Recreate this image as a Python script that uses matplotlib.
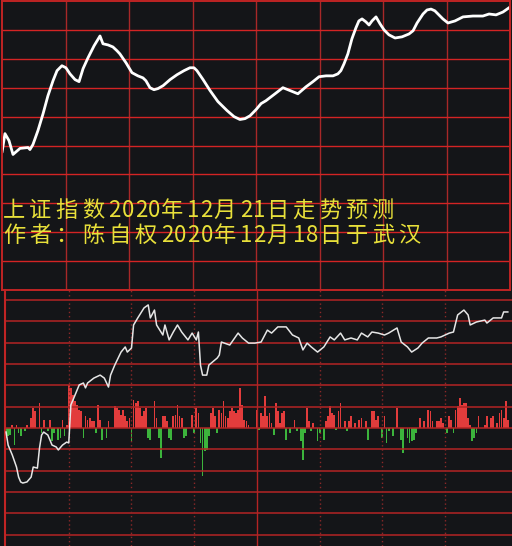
import matplotlib.pyplot as plt
import numpy as np

plt.rcParams['font.family'] = ['Noto Sans CJK SC', 'DejaVu Sans']

bg = '#141518'

# top panel: forecast curve (minute of session, grid units 0..10)
fc_t = [0, 1.4, 3.3, 5.2, 8.5, 12.3, 13.2, 14.6, 17.0, 19.4, 21.7, 24.1, 26.0, 28.3,
        30.2, 32.1, 34.5, 36.4, 38.3, 40.6, 43.5, 46.3, 47.7, 50.1, 52.4, 54.3, 55.7,
        58.6, 61.4, 64.2, 66.6, 68.0, 69.9, 71.8, 73.7, 76.1, 79.4, 82.7, 86.0, 88.8,
        90.7, 92.1, 95.0, 98.3, 102.0, 106.3, 109.6, 112.4, 114.8, 117.2, 120.0, 122.4,
        124.7, 129.0, 132.7, 136.1, 139.8, 143.6, 146.9, 149.8, 153.1, 156.4, 158.7,
        160.1, 161.6, 163.4, 165.3, 167.2, 168.6, 170.1, 171.9, 173.4, 174.8, 176.7,
        178.6, 180.5, 182.8, 185.7, 189.0, 192.3, 194.2, 196.1, 198.9, 200.8, 202.7,
        204.5, 206.0, 208.3, 210.7, 214.0, 217.8, 222.5, 227.2, 230.1, 233.4, 236.7, 240]
fc_v = [4.76, 5.41, 5.17, 4.69, 4.90, 4.93, 4.86, 5.03, 5.52, 6.10, 6.72, 7.24, 7.59, 7.76,
        7.69, 7.48, 7.28, 7.21, 7.66, 8.03, 8.45, 8.79, 8.52, 8.48, 8.41, 8.28, 8.17,
        7.86, 7.52, 7.41, 7.34, 7.24, 7.00, 6.93, 6.97, 7.07, 7.28, 7.45, 7.59, 7.69,
        7.69, 7.59, 7.28, 6.90, 6.52, 6.21, 6.00, 5.90, 5.93, 6.03, 6.24, 6.45,
        6.55, 6.79, 7.00, 6.90, 6.79, 7.03, 7.21, 7.38, 7.41, 7.41, 7.48,
        7.59, 7.83, 8.17, 8.69, 9.07, 9.31, 9.38, 9.28, 9.17, 9.31, 9.45,
        9.21, 9.00, 8.83, 8.72, 8.76, 8.86, 8.97, 9.24, 9.55, 9.69, 9.72,
        9.66, 9.55, 9.38, 9.24, 9.31, 9.45, 9.48, 9.48, 9.55, 9.52, 9.62, 9.79]

# bottom panel: intraday price line (grid units, 0 = previous close)
px_t = [0, 1, 3, 5, 6, 7, 8, 10, 12, 13, 15, 16, 17, 18, 20, 22, 24, 25, 27, 29, 30,
        31, 32, 35, 37, 38, 39, 42, 45, 47, 49, 50, 52, 55, 57, 58, 60, 61, 63, 66, 68,
        69, 71, 72, 75, 76, 78, 80, 82, 84, 87, 89, 91, 92, 93, 94, 96, 97, 101, 102, 103,
        107, 111, 113, 116, 119, 122, 125, 127, 130, 134, 137, 140, 142, 144, 146, 149,
        152, 155, 157, 160, 162, 165, 168, 170, 173, 175, 178, 181, 183, 187, 189, 192,
        194, 197, 199, 202, 206, 208, 212, 214, 216, 219, 221, 222, 225, 229, 230, 233,
        237, 238, 240]
px_v = [-0.19, -0.80, -1.27, -1.83, -2.30, -2.53, -2.58, -2.53, -2.30, -1.83, -1.88, -0.94,
        -0.33, -0.19, -0.33, -0.80, -0.89, -1.03, -0.80, -0.66, -0.70,
        1.08, 1.31, 2.02, 2.11, 1.88, 2.11, 2.34, 2.48, 2.34, 1.92, 2.48, 2.95, 3.56, 3.80,
        3.56, 3.75, 4.83, 5.16, 5.63, 5.77, 5.16, 5.53, 4.83, 4.36, 4.83, 4.13, 4.50, 4.83,
        4.50, 4.13, 4.45, 4.13, 4.50, 2.95, 2.48, 2.48, 2.95, 3.28, 3.42, 4.03,
        3.89, 4.45, 4.22, 3.98, 3.98, 4.03, 4.59, 4.45, 4.74, 4.74, 4.36, 4.22, 3.66, 3.98,
        3.80, 3.56, 3.80, 4.27, 4.13, 4.45, 4.13, 4.22, 4.13, 4.45, 4.27, 4.50, 4.45, 4.36,
        4.45, 4.69, 4.03, 3.80, 3.56, 3.75, 3.98, 4.22, 4.22, 4.27, 4.45, 4.50, 5.30, 5.53,
        5.30, 4.83, 4.97, 5.06, 4.92, 5.16, 5.16, 5.44, 5.44]

# buy (red) / sell (green) bars per minute
up_t = [3, 5, 10, 12, 13, 14, 16, 18, 21, 27, 29, 30, 31, 32, 33, 34, 35, 36, 38, 39, 40,
        41, 42, 44, 45, 49, 52, 53, 54, 55, 56, 57, 58, 59, 61, 62, 63, 64, 65, 66, 67, 71,
        72, 75, 76, 77, 80, 81, 82, 83, 84, 89, 91, 92, 98, 99, 100, 102, 103, 104, 105, 106,
        107, 108, 109, 110, 111, 112, 113, 114, 115, 116, 120, 122, 123, 124, 125, 126, 127,
        129, 130, 131, 132, 133, 138, 144, 145, 147, 153, 154, 155, 156, 157, 159, 160, 162,
        164, 165, 167, 169, 170, 172, 175, 176, 177, 178, 181, 187, 198, 200, 202, 203, 204,
        206, 207, 208, 209, 212, 213, 215, 216, 217, 218, 219, 220, 221, 222, 226, 229, 230,
        232, 233, 235, 236, 237, 238, 239, 240]
up_v = [10, 10, 10, 30, 60, 50, 75, 25, 25, 25, 10, 130, 120, 100, 80, 70, 55, 50, 35, 25, 30,
        20, 20, 70, 25, 20, 65, 60, 55, 40, 55, 35, 20, 30, 85, 75, 80, 60, 35, 50, 60, 80,
        30, 35, 35, 20, 35, 40, 70, 35, 30, 40, 60, 45, 45, 60, 35, 55, 45, 80, 35, 30,
        50, 60, 50, 45, 55, 120, 70, 25, 20, 10, 55, 45, 35, 95, 35, 45, 15,
        75, 50, 15, 45, 50, 25, 60, 20, 15, 20, 35, 65, 45, 40, 50, 75, 20,
        20, 35, 15, 25, 30, 20, 50, 50, 25, 35, 35, 60, 30, 20, 55, 50, 20,
        20, 20, 30, 15, 35, 25, 55, 65, 90, 70, 75, 75, 30, 10, 35, 10, 35,
        30, 35, 15, 45, 55, 30, 80, 25]
dn_t = [0, 1, 2, 4, 6, 7, 9, 17, 20, 22, 23, 25, 26, 28, 37, 43, 46, 48, 60, 68, 69, 73, 74,
        78, 79, 85, 86, 90, 93, 94, 95, 96, 97, 101, 121, 128, 134, 136, 139, 141, 142, 143,
        146, 149, 150, 152, 158, 163, 173, 180, 182, 183, 185, 189, 190, 192, 193, 194, 195,
        196, 211, 214, 223, 224, 225]
dn_v = [30, 25, 20, 50, 15, 25, 10, 15, 10, 40, 15, 35, 30, 25, 30, 15, 35, 30, 40, 30, 35, 30, 90,
        30, 35, 30, 25, 15, 45, 145, 70, 65, 25, 15, 5, 20, 35, 15, 10, 40, 95, 15,
        10, 40, 15, 35, 5, 10, 35, 30, 45, 10, 25, 35, 75, 30, 45, 40, 35,
        15, 15, 15, 40, 30, 15]

title_lines = ['上证指数2020年12月21日走势预测', '作者：陈自权2020年12月18日于武汉']

W, H = 512, 546
fig = plt.figure(figsize=(W / 100, H / 100), dpi=100, facecolor=bg)

# ---- top panel
ax1 = fig.add_axes([2 / W, 1 - 290 / H, 508 / W, 289 / H], facecolor=bg)
ax1.set_xlim(0, 240)
ax1.set_ylim(0, 10)
for x in range(30, 240, 30):
    ax1.axvline(x, color='#a82828', lw=1.0)
for y in range(1, 10):
    ax1.axhline(y, color='#d42424', lw=1.0)
ax1.plot(fc_t, fc_v, color='white', lw=2.0, solid_joinstyle='round', solid_capstyle='round')
for s in ax1.spines.values():
    s.set_color('#c02424')
    s.set_linewidth(1.4)
ax1.set_xticks([])
ax1.set_yticks([])

# monospaced-looking caption: wide cells for hanzi, narrow for digits
for line, base in zip(title_lines, [217, 242]):
    x = 3
    for ch in line:
        fig.text(x / W, 1 - base / H, ch, color='#e8e03a', fontsize=16,
                 va='baseline', ha='left')
        x += 13.2 if ch.isascii() else 26.3

# ---- bottom panel
ax2 = fig.add_axes([5 / W, 0, 507 / W, 256 / H], facecolor=bg)
ax2.set_xlim(-0.5, 242)
ax2.set_ylim(-118 / 21.33, 138 / 21.33)
for y in range(-5, 7):
    ax2.axhline(y, color='#b42424', lw=1.1, zorder=1)
for x in [30, 60, 90, 150, 180, 210]:
    ax2.axvline(x, color='#8c2828', lw=1.0, ls=(0, (1, 2)), zorder=1)
ax2.axvline(120, color='#b42424', lw=1.0, zorder=1)

ax3 = ax2.twinx()
ax3.set_ylim(-354, 414)
ax3.bar(up_t, up_v, width=0.85, color='#e23c3c', zorder=2)
ax3.bar(dn_t, [-v for v in dn_v], width=0.85, color='#3cb43c', zorder=2)
ax3.set_yticks([])
for s in ax3.spines.values():
    s.set_visible(False)

ax2.set_zorder(ax3.get_zorder() + 1)
ax2.patch.set_visible(False)
ax3.patch.set_facecolor(bg)
ax2.plot(px_t, px_v, color='#e6e6e6', lw=1.1, zorder=3)

for k, s in ax2.spines.items():
    s.set_visible(k == 'left')
ax2.spines['left'].set_color('#c02424')
ax2.spines['left'].set_linewidth(1.5)
ax2.set_xticks([])
ax2.set_yticks([])

fig.savefig('out.png', dpi=100, facecolor=bg)
